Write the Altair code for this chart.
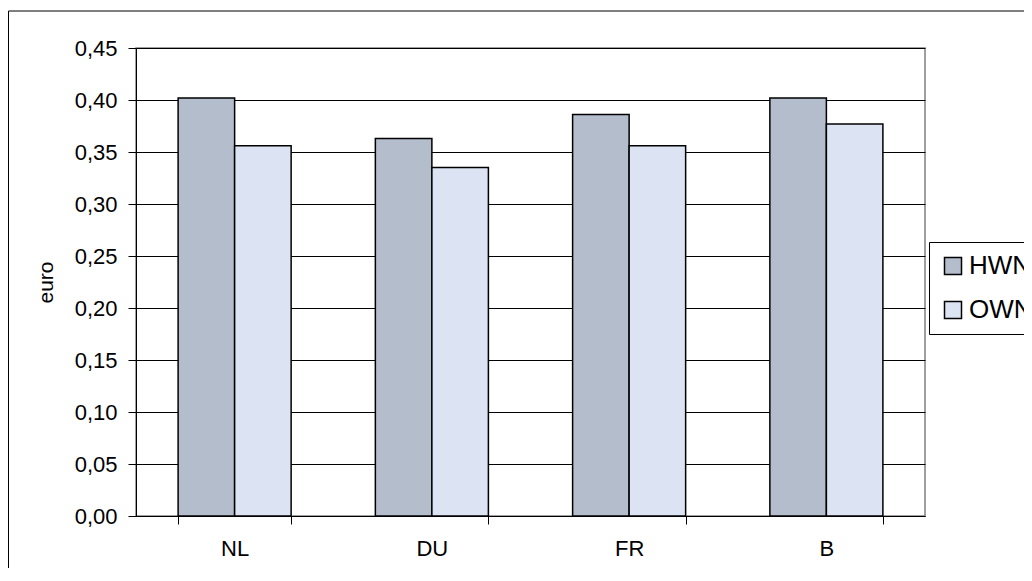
import altair as alt
import pandas as pd

categories = ["NL", "DU", "FR", "B"]
series = ["HWN", "OWN"]
hwn = [0.402, 0.363, 0.386, 0.402]
own = [0.356, 0.335, 0.356, 0.377]
y_ticks = [0.0, 0.05, 0.10, 0.15, 0.20, 0.25, 0.30, 0.35, 0.40, 0.45]
colors = ["#B4BDCC", "#DCE4F3"]

rows = []
for c, h, o in zip(categories, hwn, own):
    rows.append({"land": c, "serie": "HWN", "waarde": h})
    rows.append({"land": c, "serie": "OWN", "waarde": o})
df = pd.DataFrame(rows)

FONT = "Liberation Sans"

bars = alt.Chart(df).mark_bar(stroke="black", strokeWidth=1.5).encode(
    x=alt.X("land:N", sort=categories,
            scale=alt.Scale(paddingInner=0.427, paddingOuter=0.2135),
            axis=alt.Axis(title=None, labelAngle=0, tickBand="extent", tickSize=8,
                          labelPadding=14, labelFontSize=22, labelColor="black",
                          domainColor="black", tickColor="black", grid=False)),
    xOffset=alt.XOffset("serie:N", sort=series, scale=alt.Scale(paddingInner=0, paddingOuter=0)),
    y=alt.Y("waarde:Q", scale=alt.Scale(domain=[0, 0.45], nice=False),
            axis=alt.Axis(title="euro", values=y_ticks, format=".2f",
                          labelExpr="replace(datum.label, '.', ',')",
                          tickSize=8, labelPadding=11, labelFontSize=22, labelColor="black",
                          domainColor="black", tickColor="black",
                          grid=True, gridColor="#000000", gridWidth=1,
                          titleFontSize=21, titleFontWeight="normal", titleColor="black",
                          titleX=-90, titleY=234, titleAngle=270,
                          titleAlign="center", titleBaseline="middle")),
    color=alt.Color("serie:N", sort=series,
                    scale=alt.Scale(domain=series, range=colors),
                    legend=alt.Legend(title=None, orient="none", legendX=793, legendY=194,
                                      strokeColor="black", fillColor="white", padding=11,
                                      symbolType="square", symbolSize=289,
                                      symbolStrokeColor="black", symbolStrokeWidth=1.5,
                                      labelFontSize=26, labelColor="black", labelOffset=3,
                                      rowPadding=18)),
)

frame = alt.Chart(pd.DataFrame({"a": [1]})).mark_rect(
    fill="transparent", stroke="black", strokeWidth=1
).encode(
    x=alt.value(-127.5), x2=alt.value(1100), y=alt.value(-37), y2=alt.value(700)
)

chart = alt.layer(bars, frame).properties(
    width=789, height=468,
    autosize=alt.AutoSizeParams(type="none"),
    padding={"left": 128, "top": 40, "right": 99, "bottom": 52},
).configure(font=FONT).configure_view(stroke="#808080", strokeWidth=1.5)

chart.save("out.html", embed_options={"renderer": "svg", "actions": False})
